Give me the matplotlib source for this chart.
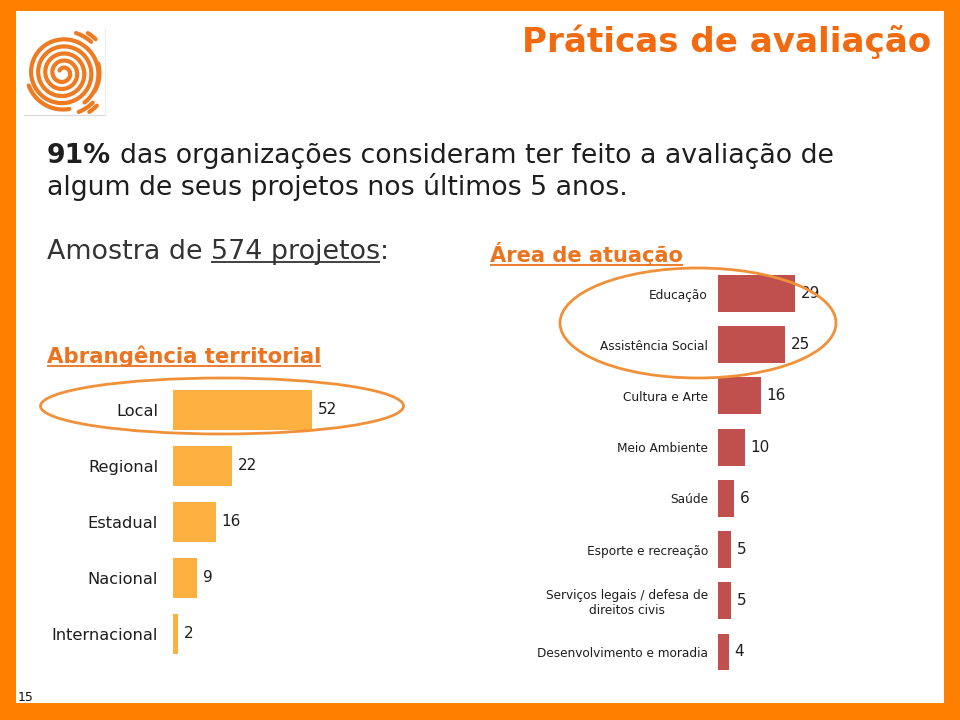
import matplotlib
matplotlib.use('Agg')
import matplotlib.pyplot as plt
import numpy as np
from matplotlib.patches import Rectangle, Ellipse

# ---------------- data ----------------
terr_labels = ["Local", "Regional", "Estadual", "Nacional", "Internacional"]
terr_values = [52, 22, 16, 9, 2]

area_labels = ["Educação", "Assistência Social", "Cultura e Arte", "Meio Ambiente",
               "Saúde", "Esporte e recreação",
               "Serviços legais / defesa de\ndireitos civis",
               "Desenvolvimento e moradia"]
area_values = [29, 25, 16, 10, 6, 5, 5, 4]

title = "Práticas de avaliação"
page_no = "15"

# ---------------- style ----------------
ORANGE_BORDER = "#FF7F00"
TITLE_C = "#F26A10"
HEAD_C = "#EA7420"
BAR_L = "#FBB040"
BAR_R = "#C0504D"
ELL_C = "#F0913A"
LOGO_C = "#EE7A22"
TXT = "#1E1E1E"
FONT = "DejaVu Sans"
plt.rcParams['font.family'] = [FONT]

W, H = 960, 720
fig = plt.figure(figsize=(9.6, 7.2), dpi=100)
fig.patch.set_facecolor("white")
bg = fig.add_axes([0, 0, 1, 1])
bg.set_xlim(0, W); bg.set_ylim(H, 0); bg.axis('off')
renderer = fig.canvas.get_renderer()


def text_w(s, size, weight='normal'):
    t = bg.text(0, 0, s, fontsize=size, weight=weight)
    w = t.get_window_extent(renderer).width
    t.remove()
    return w


def fit_size(s, target, weight='normal'):
    return 20 * target / text_w(s, 20, weight)


def run(x, y, pieces, size, color):
    """pieces: (text, weight, underline, gap_before)"""
    sp = text_w("a a", size) - text_w("aa", size)
    for s, wt, ul, gap in pieces:
        if gap:
            x += sp
        t = bg.text(x, y, s, fontsize=size, weight=wt, color=color, va='baseline', ha='left')
        w = t.get_window_extent(renderer).width
        if ul:
            bg.plot([x, x + w], [y + 3, y + 3], color=color, lw=1.3, solid_capstyle='butt')
        x += w
    return x


def pieces_width(pieces, size):
    sp = text_w("a a", size) - text_w("aa", size)
    tot = 0
    for s, wt, ul, gap in pieces:
        tot += text_w(s, size, wt) + (sp if gap else 0)
    return tot


def fit_run(x, y, pieces, target, color):
    size = 20 * target / pieces_width(pieces, 20)
    return run(x, y, pieces, size, color), size


# ---------------- border ----------------
bg.add_patch(Rectangle((0, 0), W, 11, color=ORANGE_BORDER, lw=0))
bg.add_patch(Rectangle((0, 0), 16, H, color=ORANGE_BORDER, lw=0))
bg.add_patch(Rectangle((944, 0), 16, H, color=ORANGE_BORDER, lw=0))
bg.add_patch(Rectangle((0, 703), W, 17, color=ORANGE_BORDER, lw=0))

# ---------------- logo ----------------
bg.plot([24, 105], [115, 115], color="#D8D8D8", lw=0.8)
bg.plot([105, 105], [28, 115], color="#EEEEEE", lw=0.8)
cx, cy = 63, 73
t_end = 10.3 * np.pi
th = np.linspace(1.2 * np.pi, t_end, 900)
r = 36.5 * th / t_end
bg.plot(cx + r * np.cos(th), cy + r * np.sin(th), color=LOGO_C, lw=3.0,
        solid_capstyle='round')
for rad, a0, a1 in [(36.5, 80, 160), (36.5, -15, 30),
                    (42, -72, -48), (42, 45, 68),
                    (47, -58, -46), (47, 44, 56)]:
    a = np.radians(np.linspace(a0, a1, 30))
    bg.plot(cx + rad * np.cos(a), cy + rad * np.sin(a), color=LOGO_C, lw=3.0,
            solid_capstyle='round')

# ---------------- texts ----------------
ts = fit_size(title, 410, 'bold')
bg.text(522, 52, title, fontsize=ts, weight='bold', color=TITLE_C, va='baseline', ha='left')

p1 = [("91%", 'bold', False, False),
      ("das organizações consideram ter feito a avaliação de", 'normal', False, True)]
_, s1 = fit_run(47, 163, p1, 789, TXT)
run(47, 195, [("algum de seus projetos nos últimos 5 anos.", 'normal', False, False)], s1, TXT)

pa = [("Amostra de", 'normal', False, False), ("574 projetos", 'normal', True, True),
      (":", 'normal', False, False)]
fit_run(47, 259, pa, 341, "#333333")

fit_run(490, 262, [("Área de atuação", 'bold', True, False)], 194, HEAD_C)
fit_run(47, 363, [("Abrangência territorial", 'bold', True, False)], 275, HEAD_C)

bg.text(18, 701, page_no, fontsize=9, color="#111111", va='baseline', ha='left',
        family="DejaVu Sans")

# ---------------- bar charts ----------------
def px_axes(x0, y0, x1, y1):
    return fig.add_axes([x0 / W, 1 - y1 / H, (x1 - x0) / W, (y1 - y0) / H])

lsize = fit_size("Internacional", 106)
rsize = fit_size("Desenvolvimento e moradia", 172)

# left: territorial
axl = px_axes(173, 382, 173 + 2.673 * 60, 662)
yl = np.arange(len(terr_labels))
axl.barh(yl, terr_values, height=0.714, color=BAR_L)
axl.set_xlim(0, 60); axl.set_ylim(len(terr_labels) - 0.5, -0.5)
axl.set_yticks(yl, terr_labels, fontsize=lsize, color=TXT)
axl.tick_params(axis='y', length=0, pad=10.8)
axl.set_xticks([])
for sp in axl.spines.values():
    sp.set_visible(False)
axl.patch.set_alpha(0)
for i, v in enumerate(terr_values):
    axl.annotate(str(v), (v, i), xytext=(6, 0), textcoords='offset pixels',
                 va='center', ha='left', fontsize=11, color=TXT)

# right: area
axr = px_axes(718, 267.9, 718 + 2.66 * 40, 677.6)
yr = np.arange(len(area_labels))
axr.barh(yr, area_values, height=0.72, color=BAR_R)
axr.set_xlim(0, 40); axr.set_ylim(len(area_labels) - 0.5, -0.5)
axr.set_yticks(yr, area_labels, fontsize=rsize, color=TXT)
for lab in axr.get_yticklabels():
    lab.set_multialignment('center')
axr.tick_params(axis='y', length=0, pad=7.2)
axr.set_xticks([])
for sp in axr.spines.values():
    sp.set_visible(False)
axr.patch.set_alpha(0)
for i, v in enumerate(area_values):
    axr.annotate(str(v), (v, i), xytext=(6, 0), textcoords='offset pixels',
                 va='center', ha='left', fontsize=11, color=TXT)

# ---------------- ellipses overlay ----------------
ov = fig.add_axes([0, 0, 1, 1])
ov.set_xlim(0, W); ov.set_ylim(H, 0); ov.axis('off'); ov.patch.set_alpha(0)
ov.add_patch(Ellipse((222, 406), 363, 56, fill=False, edgecolor=ELL_C, lw=2))
ov.add_patch(Ellipse((698, 323), 276, 110, fill=False, edgecolor=ELL_C, lw=2))

fig.savefig("out.png", dpi=100)
